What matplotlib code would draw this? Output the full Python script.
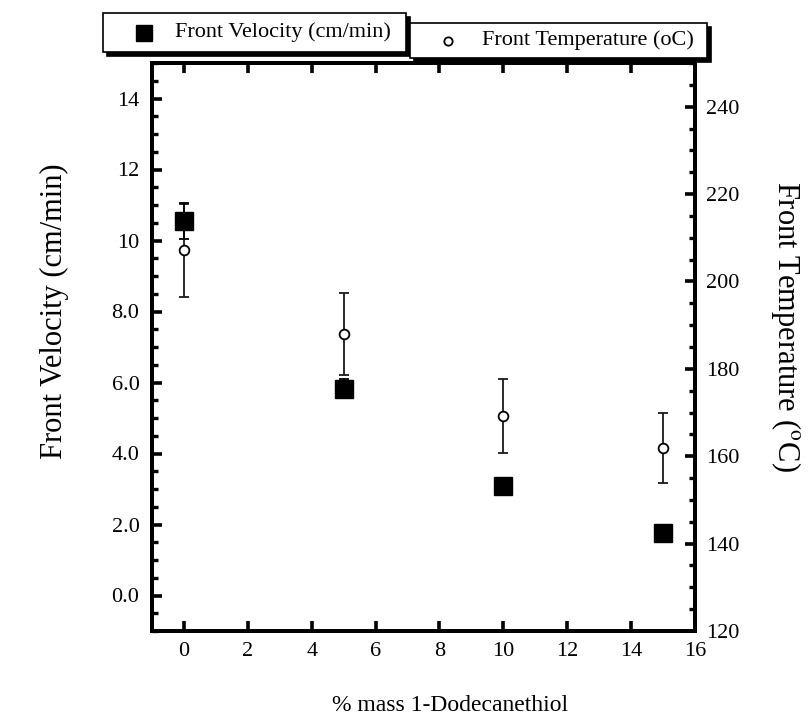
import matplotlib
matplotlib.use("Agg")
import matplotlib.pyplot as plt
from matplotlib.patches import Rectangle
from matplotlib.lines import Line2D
from matplotlib.ticker import FixedLocator, FixedFormatter, MultipleLocator

plt.rcParams['font.family'] = ['Liberation Serif', 'DejaVu Serif']
plt.rcParams['mathtext.fontset'] = 'stix'

# composition (% mass 1-dodecanethiol)
pct = [0, 5, 10, 15]
# front velocity, cm/min
velocity = [10.55, 5.83, 3.09, 1.75]
velocity_err = [0.5, 0.28, 0.1, 0.1]
# front temperature, deg C
temperature = [207.1, 188.0, 169.2, 161.9]
temperature_err = [10.6, 9.4, 8.5, 8.0]

x_ticks = [0, 2, 4, 6, 8, 10, 12, 14, 16]
v_ticks = [0, 2, 4, 6, 8, 10, 12, 14]
v_tick_labels = ["0.0", "2.0", "4.0", "6.0", "8.0", "10", "12", "14"]
t_ticks = [120, 140, 160, 180, 200, 220, 240]

W, H = 812, 725
fig = plt.figure(figsize=(W / 100, H / 100), dpi=100)

L, R, T, B = 152, 695, 63, 631
ax = fig.add_axes([L / W, (H - B) / H, (R - L) / W, (B - T) / H])
ax2 = ax.twinx()

# temperature on the right axis (open circles with error bars)
ax2.errorbar(pct, temperature, yerr=temperature_err, fmt='o', ms=7,
             mfc='white', mec='black', mew=1.3, ecolor='#1a1a1a',
             elinewidth=1.3, capsize=3.4, capthick=1.3, zorder=3)
# velocity on the left axis (filled squares)
ax.errorbar(pct, velocity, yerr=velocity_err, fmt='s', ms=12.5,
            mfc='black', mec='black', ecolor='black', elinewidth=1.3,
            capsize=3.4, capthick=1.3, zorder=3)
ax.set_zorder(ax2.get_zorder() + 1)
ax.patch.set_visible(False)

ax.set_xlim(-1, 16)
ax.set_ylim(-1, 15)
ax2.set_ylim(120, 250)

ax.xaxis.set_major_locator(FixedLocator(x_ticks))
ax.yaxis.set_major_locator(FixedLocator(v_ticks))
ax.yaxis.set_major_formatter(FixedFormatter(v_tick_labels))
ax.yaxis.set_minor_locator(MultipleLocator(0.5))
ax2.yaxis.set_major_locator(FixedLocator(t_ticks))
ax2.yaxis.set_minor_locator(MultipleLocator(5))

for a in (ax, ax2):
    for s in a.spines.values():
        s.set_linewidth(2.8)

ax.tick_params(axis='x', which='major', direction='in', top=True, bottom=True,
               length=7, width=2.6, labelsize=16, pad=8)
ax.tick_params(axis='y', which='major', direction='in', left=True, right=False,
               length=7, width=2.6, labelsize=16, pad=9)
ax.tick_params(axis='y', which='minor', direction='in', left=True, right=False,
               length=4, width=2.4)
ax2.tick_params(axis='y', which='major', direction='in', right=True,
                length=7, width=2.6, labelsize=16, pad=8)
ax2.tick_params(axis='y', which='minor', direction='in', right=True,
                length=4, width=2.4)

ax.set_xlabel("% mass 1-Dodecanethiol", fontsize=17, va='center')
ax.xaxis.set_label_coords(0.549, -0.132)
ax.set_ylabel("Front Velocity (cm/min)", fontsize=22, va='center')
ax.yaxis.set_label_coords(-0.179, 0.563)
ax2.set_ylabel(r"Front Temperature ($^{\mathrm{o}}$C)", fontsize=22,
               rotation=270, va='center')
ax2.yaxis.set_label_coords(1.168, 0.537)


def px(x0, y0, x1, y1):
    """Rectangle in figure fraction from pixel box (top-left origin)."""
    return (x0 / W, (H - y1) / H), (x1 - x0) / W, (y1 - y0) / H


def legend_box(x0, y0, x1, y1, handle, label, hx, tx):
    for (dx, face, ec) in ((4, 'black', 'black'), (0, 'white', 'black')):
        xy, w, h = px(x0 + dx, y0 + dx, x1 + dx, y1 + dx)
        fig.patches.append(Rectangle(xy, w, h, transform=fig.transFigure,
                                     facecolor=face, edgecolor=ec,
                                     linewidth=1.2, zorder=5))
    yc = (H - (y0 + y1) / 2) / H
    handle.set_data([hx / W], [yc])
    handle.set_transform(fig.transFigure)
    handle.set_zorder(6)
    fig.lines.append(handle)
    fig.text(tx / W, yc, label, fontsize=16, va='center', ha='left', zorder=6)


legend_box(103, 13, 406, 52,
           Line2D([], [], marker='s', ms=12, color='black', ls='none'),
           "Front Velocity (cm/min)", 144, 175)
legend_box(410, 23, 707, 58,
           Line2D([], [], marker='o', ms=6, mfc='white', mec='black',
                  mew=1.3, ls='none'),
           "Front Temperature (oC)", 448, 482)

fig.savefig("out.png", dpi=100)
